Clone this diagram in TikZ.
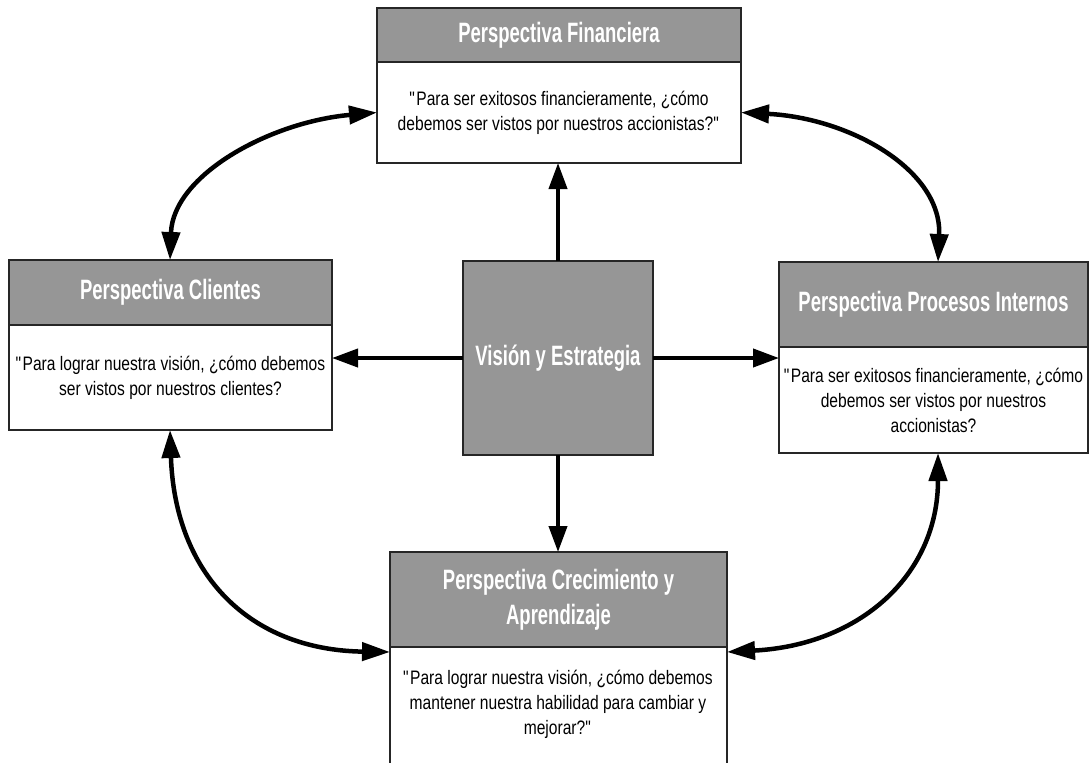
\documentclass[tikz,border=0pt]{standalone}
\usepackage{fontspec}
\setmainfont{Liberation Sans}[FakeStretch=0.8]
\newfontfamily\headfont{Liberation Sans}[FakeStretch=0.66]
\usetikzlibrary{arrows.meta,calc}

\definecolor{headgray}{RGB}{150,150,150}
\newcommand{\qq}{\textquotedbl}

\tikzset{
  framestroke/.style={draw=black!85, line width=1.6pt},
  frame/.style={framestroke, inner sep=0pt, outer sep=0pt, anchor=north west},
  head/.style={frame, fill=headgray, text=white, align=center,
    font=\headfont\bfseries\fontsize{28}{35}\selectfont},
  body/.style={frame, fill=white, align=center,
    font=\fontsize{19.5}{25}\selectfont},
  bodytext/.style={align=center, inner sep=0pt, font=\fontsize{19.5}{25}\selectfont},
  link/.style={line width=4.5pt, {Triangle[length=28pt,width=18pt]}-{Triangle[length=28pt,width=18pt]}},
  push/.style={line width=4pt, -{Triangle[length=26pt,width=18pt]}}
}

\begin{document}
\begin{tikzpicture}[x=1pt,y=-1pt]
\useasboundingbox (0,0) rectangle (1089,763);

% Financial perspective (top)
\node[body, minimum width=364pt, minimum height=101pt] (finB) at (377,62)
  {\qq Para ser exitosos financieramente, ¿cómo\\debemos ser vistos por nuestros accionistas?\qq};
\node[head, minimum width=364pt, minimum height=54pt] (finH) at (377,8)
  {Perspectiva Financiera};

% Customer perspective (left)
\node[body, minimum width=323pt, minimum height=105pt] (cliB) at (9,325)
  {\qq Para lograr nuestra visión, ¿cómo debemos\\ser vistos por nuestros clientes?};
\node[head, minimum width=323pt, minimum height=65pt] (cliH) at (9,260)
  {Perspectiva Clientes};

% Internal process perspective (right)
\node[body, minimum width=309pt, minimum height=106pt] (proB) at (779,347)
  {\qq Para ser exitosos financieramente, ¿cómo\\debemos ser vistos por nuestros\\accionistas?};
\node[head, minimum width=309pt, minimum height=85pt] (proH) at (779,262)
  {Perspectiva Procesos Internos};

% Learning and growth perspective (bottom, open at the lower edge)
\node[frame, draw=none, fill=white, minimum width=337pt, minimum height=116pt] (creB) at (390,647) {};
\draw[framestroke] (creB.north west) -- (creB.south west)
                   (creB.north east) -- (creB.south east);
\node[bodytext] (creT) at (558,704)
  {\qq Para lograr nuestra visión, ¿cómo debemos\\mantener nuestra habilidad para cambiar y\\mejorar?\qq};
\node[head, minimum width=337pt, minimum height=95pt] (creH) at (390,552)
  {Perspectiva Crecimiento y\\Aprendizaje};

% Vision and strategy (centre)
\node[head, minimum width=190pt, minimum height=194pt] (vis) at (463,261)
  {Visión y Estrategia};

% Centre to each perspective
\draw[push] (vis.north) -- (vis.north |- finB.south);
\draw[push] (vis.west) -- (vis.west -| cliB.east);
\draw[push] (vis.east) -- (vis.east -| proB.west);
\draw[push] (vis.south) -- (vis.south |- creH.north);

% Links between neighbouring perspectives
\draw[link] ([xshift=161pt]cliH.north west) .. controls (173,175) and (270,122) .. (finB.west);
\draw[link] (finB.east) .. controls (850,118) and (942,170) .. ([xshift=159pt]proH.north west);
\draw[link] ([xshift=161pt]cliB.south west) .. controls (175,575) and (250,650) .. ([yshift=-5pt]creB.north west);
\draw[link] ([xshift=159pt]proB.south west) .. controls (938,575) and (860,645) .. ([yshift=-5pt]creB.north east);
\end{tikzpicture}
\end{document}
